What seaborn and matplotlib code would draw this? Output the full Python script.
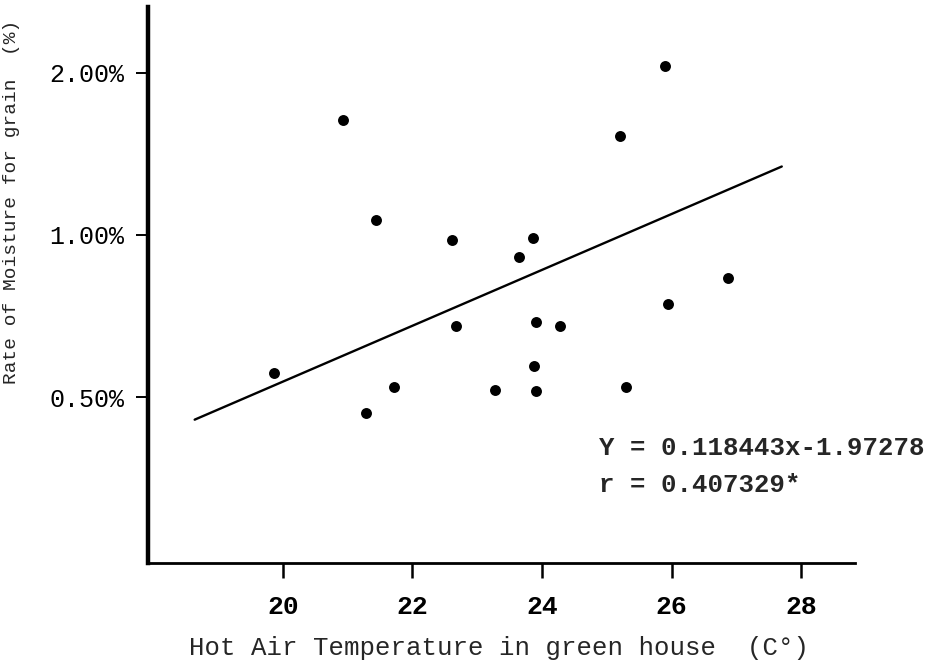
import matplotlib
matplotlib.use("Agg")
import matplotlib.pyplot as plt
import seaborn as sns
import pandas as pd

# Data (temperature in °C, moisture rate in %)
temperature = [19.86, 20.93, 21.29, 21.44, 21.72, 22.61, 22.67, 23.27, 23.64, 23.86,
               23.88, 23.90, 23.91, 24.28, 25.20, 25.29, 25.90, 25.94, 26.87]
moisture = [0.555, 1.632, 0.467, 1.067, 0.521, 0.980, 0.677, 0.516, 0.909, 0.988,
            0.570, 0.689, 0.514, 0.679, 1.528, 0.521, 2.055, 0.745, 0.832]

fit_x = [18.64, 27.70]
fit_y = [0.454, 1.340]

x_ticks = [20, 22, 24, 26, 28]
y_ticks = [0.5, 1.0, 2.0]
y_tick_labels = ["0.50%", "1.00%", "2.00%"]

x_title = "Hot Air Temperature in green house  (C°)"
y_title = "Rate of Moisture for grain  (%)"
eq_text = "Y = 0.118443x-1.97278"
r_text = "r = 0.407329*"

sns.set_theme(style="ticks")
plt.rcParams["font.family"] = ["Liberation Mono", "DejaVu Sans Mono"]

fig = plt.figure(figsize=(9.26, 6.67), dpi=100)
ax = fig.add_axes([148 / 926, 1 - 563 / 667, (855 - 148) / 926, (563 - 7) / 667])

df = pd.DataFrame({"t": temperature, "m": moisture})
fit = pd.DataFrame({"t": fit_x, "m": fit_y})

sns.lineplot(data=fit, x="t", y="m", ax=ax, color="black", linewidth=1.7)
sns.scatterplot(data=df, x="t", y="m", ax=ax, color="black", s=62,
                edgecolor="black", linewidth=0, zorder=3)

ax.set_yscale("log")
ax.set_xlim(17.92, 28.83)
ax.set_ylim(0.246, 2.65)

ax.set_xticks(x_ticks)
ax.set_xticklabels([str(v) for v in x_ticks], fontsize=19, fontweight="bold")
ax.set_yticks(y_ticks)
ax.set_yticklabels(y_tick_labels, fontsize=18)
ax.yaxis.set_minor_locator(matplotlib.ticker.NullLocator())

ax.tick_params(axis="x", direction="out", length=11, width=1.8, pad=12, colors="black")
ax.tick_params(axis="y", direction="out", length=9, width=1.4, pad=8, colors="black")

for side in ["top", "right"]:
    ax.spines[side].set_visible(False)
ax.spines["left"].set_linewidth(3.2)
ax.spines["bottom"].set_linewidth(2.0)
ax.spines["left"].set_color("black")
ax.spines["bottom"].set_color("black")

ax.set_xlabel(x_title, fontsize=18.5)
ax.xaxis.set_label_coords(0.496, -0.132)
ax.set_ylabel(y_title, fontsize=14)
ax.yaxis.set_label_coords(-0.181, 0.65)

ax.text(0.638, 0.207, eq_text, transform=ax.transAxes, fontsize=18.5,
        fontweight="bold", va="center", ha="left")
ax.text(0.638, 0.140, r_text, transform=ax.transAxes, fontsize=18.5,
        fontweight="bold", va="center", ha="left")

ax.set_facecolor("white")
fig.patch.set_facecolor("white")
fig.savefig("out.png", dpi=100)
